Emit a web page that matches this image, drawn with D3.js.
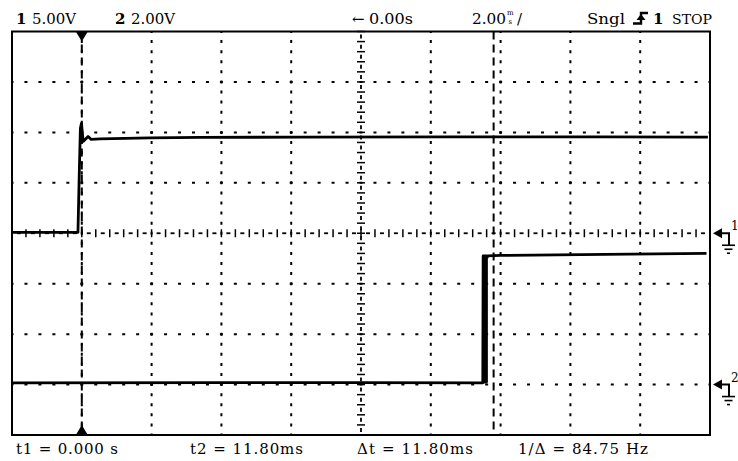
<!DOCTYPE html>
<html><head><meta charset="utf-8">
<script src="https://cdn.jsdelivr.net/npm/d3@7"></script>
<style>html,body{margin:0;padding:0;background:#fff;}svg{display:block;}</style>
</head><body>
<svg id="c" width="738" height="461"></svg>
<script>
// ---- data (time in ms, volts) ----
const ch1Time  = [-2, -0.11, -0.07, -0.04, -0.01, 0.04, 0.11, 0.18, 0.27, 0.52, 1.96, 3.39, 6.25, 10.55, 14.85, 17.94];
const ch1Volts = [0.09, 0.09, 6.3, 10.4, 10.9, 9.1, 9.35, 9.6, 9.3, 9.35, 9.45, 9.51, 9.52, 9.55, 9.55, 9.52];
const ch2Time  = [-2, 4, 8, 11.49, 11.50, 11.52, 11.52, 11.545, 11.545, 11.57, 11.57, 11.595, 11.595, 11.62, 11.63, 12.0, 15, 17.9];
const ch2Volts = [0.07, 0.08, 0.08, 0.07, 5.1, 5.1, 0.1, 0.1, 5.1, 5.1, 0.1, 0.1, 5.1, 5.05, 5.1, 5.12, 5.16, 5.2];
const cursorTimes = [0, 11.80];
const triggerTime = 0;
const timeDomain = [-2, 18];      // 2.00 ms/div, 10 div
const ch1Domain = [-20, 20];      // 5.00 V/div, 8 div
const ch2Domain = [-2, 14];       // 2.00 V/div, 8 div
const headerLeft = [["1", "5.00V"], ["2", "2.00V"]];
const footerLabels = ["t1 = 0.000 s", "t2 = 11.80ms", "\u0394t = 11.80ms", "1/\u0394 = 84.75 Hz"];

// ---- layout ----
const L = 12, R = 710, T = 31.5, B = 435;
const svg = d3.select("#c");
const x = d3.scaleLinear().domain(timeDomain).range([L, R]);
const y1 = d3.scaleLinear().domain(ch1Domain).range([B, T]);
const y2 = d3.scaleLinear().domain(ch2Domain).range([B, T]);
const FONT = "'DejaVu Serif', serif";

const xDiv = d3.range(timeDomain[0], timeDomain[1] + 0.001, 2);
const yDiv = d3.range(ch1Domain[0], ch1Domain[1] + 0.001, 5);
const dx = x(2) - x(0), dy = y1(0) - y1(5);
const xc = x(8), yc = y1(0);

// dotted grid
const g = svg.append("g");
xDiv.slice(1, -1).filter(t => t !== 8).forEach(t => {
  g.append("line").attr("x1", x(t)).attr("x2", x(t)).attr("y1", T).attr("y2", B)
   .attr("stroke", "#000").attr("stroke-width", 2)
   .attr("stroke-dasharray", `3 ${dy / 5 - 3}`).attr("stroke-dashoffset", 1.5);
});
yDiv.slice(1, -1).filter(v => v !== 0).forEach(v => {
  g.append("line").attr("x1", L).attr("x2", R).attr("y1", y1(v)).attr("y2", y1(v))
   .attr("stroke", "#000").attr("stroke-width", 2)
   .attr("stroke-dasharray", `3 ${dx / 5 - 3}`).attr("stroke-dashoffset", 1.5);
});
// center axes with ticks
const hTicks = d3.range(timeDomain[0], timeDomain[1] + 0.001, 0.4);
hTicks.forEach(t => {
  g.append("line").attr("x1", x(t)).attr("x2", x(t)).attr("y1", yc - 4).attr("y2", yc + 4)
   .attr("stroke", "#000").attr("stroke-width", 1.5);
  if (t + 0.2 < timeDomain[1]) g.append("line").attr("x1", x(t + 0.2) - 2).attr("x2", x(t + 0.2) + 2)
   .attr("y1", yc).attr("y2", yc).attr("stroke", "#000").attr("stroke-width", 1.8);
});
const vTicks = d3.range(ch1Domain[0], ch1Domain[1] + 0.001, 1);
vTicks.forEach(v => {
  g.append("line").attr("x1", xc - 4).attr("x2", xc + 4).attr("y1", y1(v)).attr("y2", y1(v))
   .attr("stroke", "#000").attr("stroke-width", 1.5);
  if (v + 0.5 < ch1Domain[1]) g.append("line").attr("x1", xc).attr("x2", xc)
   .attr("y1", y1(v + 0.5) - 2).attr("y2", y1(v + 0.5) + 2).attr("stroke", "#000").attr("stroke-width", 1.8);
});

// cursors
cursorTimes.forEach(t => {
  g.append("line").attr("x1", x(t)).attr("x2", x(t)).attr("y1", T).attr("y2", B)
   .attr("stroke", "#000").attr("stroke-width", 2).attr("stroke-dasharray", "8 5");
});

// border
svg.append("rect").attr("x", L).attr("y", T).attr("width", R - L).attr("height", B - T)
  .attr("fill", "none").attr("stroke", "#000").attr("stroke-width", 2);

// trigger triangles
const tx = x(triggerTime);
svg.append("path").attr("d", `M${tx - 6},${T}L${tx + 6},${T}L${tx},${T + 10}Z`).attr("fill", "#000");
svg.append("path").attr("d", `M${tx - 6},${B}L${tx + 6},${B}L${tx},${B - 10}Z`).attr("fill", "#000");

// traces
const ch1 = ch1Time.map((t, i) => ({ t, v: ch1Volts[i] }));
const ch2 = ch2Time.map((t, i) => ({ t, v: ch2Volts[i] }));
svg.append("path").attr("d", d3.line().x(d => x(d.t)).y(d => y1(d.v))(ch1))
  .attr("fill", "none").attr("stroke", "#000").attr("stroke-width", 2.8).attr("stroke-linejoin", "round");
svg.append("path").attr("d", d3.line().x(d => x(d.t)).y(d => y2(d.v))(ch2))
  .attr("fill", "none").attr("stroke", "#000").attr("stroke-width", 2.8).attr("stroke-linejoin", "round");

// ground markers
[[y1(0), "1"], [y2(0), "2"]].forEach(([gy, lab]) => {
  const m = svg.append("g");
  m.append("path").attr("d", `M${R + 3},${gy}L${R + 12},${gy - 5}L${R + 12},${gy + 5}Z`).attr("fill", "#000");
  m.append("path").attr("d", `M${R + 10},${gy}H${R + 19}V${gy + 12}`).attr("fill", "none").attr("stroke", "#000").attr("stroke-width", 2);
  m.append("line").attr("x1", R + 12).attr("x2", R + 25).attr("y1", gy + 12).attr("y2", gy + 12).attr("stroke", "#000").attr("stroke-width", 1.6);
  m.append("line").attr("x1", R + 14.5).attr("x2", R + 22.5).attr("y1", gy + 16).attr("y2", gy + 16).attr("stroke", "#000").attr("stroke-width", 1.6);
  m.append("line").attr("x1", R + 17).attr("x2", R + 20).attr("y1", gy + 20).attr("y2", gy + 20).attr("stroke", "#000").attr("stroke-width", 1.6);
  m.append("text").attr("x", R + 21).attr("y", gy - 3).attr("font-family", FONT).attr("font-size", 12).text(lab);
});

// header text
const hdr = svg.append("g").attr("font-family", FONT).attr("font-size", 15).attr("fill", "#000");
const hx = [[16, 32], [115, 131]];
headerLeft.forEach((h, i) => {
  hdr.append("text").attr("x", hx[i][0]).attr("y", 24).attr("font-weight", "bold").text(h[0]);
  hdr.append("text").attr("x", hx[i][1]).attr("y", 24).attr("textLength", 44).attr("lengthAdjust", "spacingAndGlyphs").text(h[1]);
});
hdr.append("text").attr("x", 352).attr("y", 24).text("\u2190");
hdr.append("text").attr("x", 369).attr("y", 24).attr("textLength", 44).attr("lengthAdjust", "spacingAndGlyphs").text("0.00s");
hdr.append("text").attr("x", 472).attr("y", 24).attr("textLength", 34).attr("lengthAdjust", "spacingAndGlyphs").text("2.00");
hdr.append("text").attr("x", 507).attr("y", 15).attr("font-size", 7).text("m");
hdr.append("text").attr("x", 508.5).attr("y", 23.5).attr("font-size", 7).text("s");
hdr.append("text").attr("x", 517).attr("y", 24).text("/");
hdr.append("text").attr("x", 587).attr("y", 24).attr("textLength", 38).attr("lengthAdjust", "spacingAndGlyphs").text("Sngl");
// trigger edge icon
svg.append("path").attr("d", "M633,23.5H641V13H648").attr("fill", "none").attr("stroke", "#000").attr("stroke-width", 2.4);
svg.append("path").attr("d", "M641,14L636.5,20H645.5Z").attr("fill", "#000");
hdr.append("text").attr("x", 653).attr("y", 24).attr("font-weight", "bold").text("1");
hdr.append("text").attr("x", 672).attr("y", 24).attr("font-size", 12.5).attr("textLength", 40).attr("lengthAdjust", "spacingAndGlyphs").text("STOP");

// footer
const fx = [[16, 102], [190, 113], [357, 116], [518, 130]];
const ftr = svg.append("g").attr("font-family", FONT).attr("font-size", 15).attr("fill", "#000");
footerLabels.forEach((s, i) => {
  ftr.append("text").attr("x", fx[i][0]).attr("y", 454).attr("textLength", fx[i][1]).attr("lengthAdjust", "spacing").text(s);
});
</script>
</body></html>
